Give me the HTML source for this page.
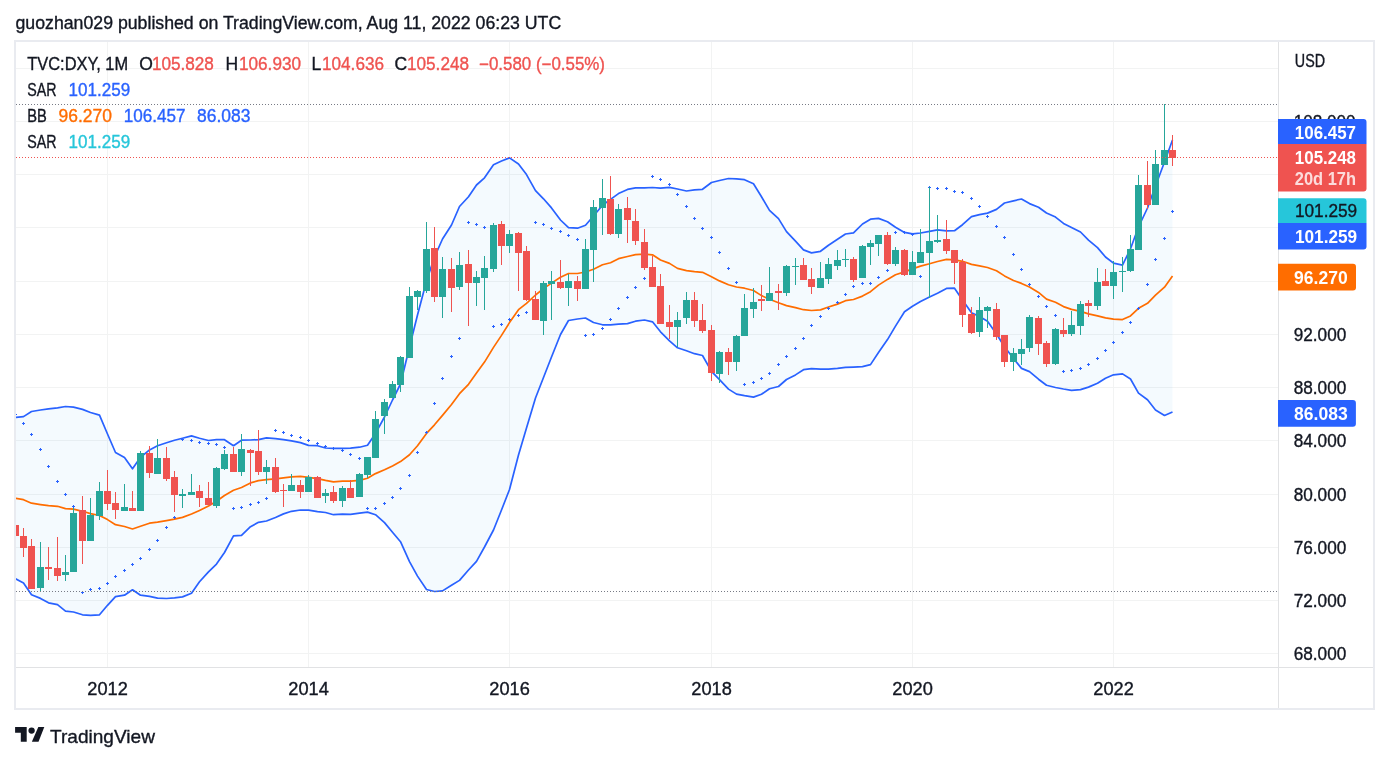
<!DOCTYPE html><html><head><meta charset="utf-8"><style>html,body{margin:0;padding:0;background:#fff;width:1389px;height:762px;overflow:hidden}svg{display:block;will-change:transform}text{font-family:"Liberation Sans", sans-serif}</style></head><body>
<svg width="1389" height="762" viewBox="0 0 1389 762">
<rect width="1389" height="762" fill="#fff"/>
<text x="15.5" y="28.8" font-size="17.5" fill="#131722" stroke="#131722" stroke-width="0.35" textLength="545.7" lengthAdjust="spacingAndGlyphs">guozhan029 published on TradingView.com, Aug 11, 2022 06:23 UTC</text>
<defs><clipPath id="pane"><rect x="16" y="42" width="1262" height="625"/></clipPath></defs>
<g clip-path="url(#pane)">
<rect x="16" y="653" width="1262" height="1" fill="#f2f3f3"/>
<rect x="16" y="600" width="1262" height="1" fill="#f2f3f3"/>
<rect x="16" y="547" width="1262" height="1" fill="#f2f3f3"/>
<rect x="16" y="494" width="1262" height="1" fill="#f2f3f3"/>
<rect x="16" y="440" width="1262" height="1" fill="#f2f3f3"/>
<rect x="16" y="387" width="1262" height="1" fill="#f2f3f3"/>
<rect x="16" y="334" width="1262" height="1" fill="#f2f3f3"/>
<rect x="16" y="281" width="1262" height="1" fill="#f2f3f3"/>
<rect x="16" y="227" width="1262" height="1" fill="#f2f3f3"/>
<rect x="16" y="174" width="1262" height="1" fill="#f2f3f3"/>
<rect x="16" y="121" width="1262" height="1" fill="#f2f3f3"/>
<rect x="16" y="68" width="1262" height="1" fill="#f2f3f3"/>
<rect x="107" y="42" width="1" height="625" fill="#f2f3f3"/>
<rect x="308" y="42" width="1" height="625" fill="#f2f3f3"/>
<rect x="509" y="42" width="1" height="625" fill="#f2f3f3"/>
<rect x="711" y="42" width="1" height="625" fill="#f2f3f3"/>
<rect x="912" y="42" width="1" height="625" fill="#f2f3f3"/>
<rect x="1113" y="42" width="1" height="625" fill="#f2f3f3"/>
<polygon points="6.5,418.5 15.5,417.4 23.5,416.6 31.5,411.5 40.5,410.0 48.5,408.8 57.5,407.8 65.5,406.5 73.5,407.2 82.5,409.4 90.5,412.5 99.5,415.1 107.5,434.0 115.5,452.5 124.5,457.6 132.5,468.8 140.5,457.3 149.5,449.9 157.5,445.8 166.5,442.7 174.5,440.2 182.5,438.2 191.5,435.9 199.5,438.2 208.5,440.5 216.5,439.7 224.5,439.7 233.5,445.7 241.5,440.2 250.5,440.0 258.5,439.6 266.5,437.9 275.5,438.6 283.5,439.7 291.5,440.9 300.5,442.6 308.5,445.4 317.5,445.7 325.5,448.0 333.5,448.4 342.5,448.4 350.5,448.1 359.5,447.2 367.5,445.2 375.5,433.4 384.5,417.0 392.5,400.0 400.5,384.0 409.5,347.0 417.5,315.0 426.5,281.0 434.5,257.0 442.5,239.0 451.5,225.0 459.5,206.5 468.5,196.7 476.5,185.0 484.5,177.8 493.5,164.7 501.5,161.0 509.5,157.9 518.5,164.0 526.5,174.6 535.5,190.6 543.5,198.8 551.5,207.9 560.5,220.0 568.5,227.6 577.5,228.2 585.5,225.3 593.5,216.0 602.5,205.3 610.5,199.4 618.5,193.6 627.5,189.4 635.5,187.9 644.5,187.9 652.5,187.5 660.5,188.2 669.5,187.3 677.5,189.0 686.5,191.0 694.5,189.8 702.5,189.3 711.5,182.5 719.5,180.5 728.5,178.5 736.5,178.8 744.5,179.7 753.5,183.8 761.5,196.8 769.5,210.4 778.5,218.6 786.5,231.6 795.5,241.1 803.5,249.9 811.5,252.9 820.5,251.3 828.5,245.2 837.5,239.3 845.5,234.0 853.5,232.8 862.5,224.0 870.5,219.2 878.5,218.4 887.5,221.7 895.5,227.2 904.5,232.4 912.5,233.9 920.5,233.0 929.5,231.3 937.5,229.9 946.5,230.9 954.5,230.7 962.5,224.7 971.5,216.6 979.5,214.6 987.5,213.1 996.5,209.4 1004.5,203.0 1013.5,200.8 1021.5,199.0 1029.5,203.6 1038.5,207.3 1046.5,213.0 1055.5,217.1 1063.5,223.4 1071.5,227.4 1080.5,232.0 1088.5,240.1 1097.5,247.6 1105.5,257.0 1113.5,263.2 1122.5,265.1 1130.5,248.8 1138.5,227.0 1147.5,208.0 1155.5,186.0 1164.5,162.0 1172.5,140.0 1172.5,412.0 1164.5,415.5 1155.5,410.0 1147.5,399.7 1138.5,393.1 1130.5,379.0 1122.5,373.9 1113.5,374.8 1105.5,378.2 1097.5,383.3 1088.5,387.1 1080.5,389.6 1071.5,390.3 1063.5,389.0 1055.5,387.5 1046.5,385.2 1038.5,379.2 1029.5,371.6 1021.5,368.4 1013.5,358.5 1004.5,346.8 996.5,334.0 987.5,321.3 979.5,316.5 971.5,312.8 962.5,300.0 954.5,288.2 946.5,288.4 937.5,293.3 929.5,297.0 920.5,301.5 912.5,306.2 904.5,311.7 895.5,326.1 887.5,339.6 878.5,352.5 870.5,364.6 862.5,366.6 853.5,367.1 845.5,367.4 837.5,368.4 828.5,369.2 820.5,369.2 811.5,368.6 803.5,369.7 795.5,374.9 786.5,379.5 778.5,386.5 769.5,388.8 761.5,394.3 753.5,397.1 744.5,395.7 736.5,394.1 728.5,389.1 719.5,379.7 711.5,371.4 702.5,355.5 694.5,353.7 686.5,350.7 677.5,347.8 669.5,340.9 660.5,331.8 652.5,321.8 644.5,320.0 635.5,321.2 627.5,323.6 618.5,324.2 610.5,324.8 602.5,324.8 593.5,322.5 585.5,318.0 577.5,319.0 568.5,320.5 560.5,334.5 551.5,357.0 543.5,377.5 535.5,398.0 526.5,428.0 518.5,455.0 509.5,489.5 501.5,510.0 493.5,530.0 484.5,547.0 476.5,561.3 468.5,570.0 459.5,580.4 451.5,585.3 442.5,590.9 434.5,591.5 426.5,589.5 417.5,576.1 409.5,561.7 400.5,541.7 392.5,532.2 384.5,522.6 375.5,514.7 367.5,512.1 359.5,513.1 350.5,514.4 342.5,514.2 333.5,514.7 325.5,512.5 317.5,511.7 308.5,510.2 300.5,510.0 291.5,511.3 283.5,513.9 275.5,517.5 266.5,521.0 258.5,522.3 250.5,526.7 241.5,535.4 233.5,535.8 224.5,552.5 216.5,564.1 208.5,571.9 199.5,581.8 191.5,593.2 182.5,596.9 174.5,597.9 166.5,598.5 157.5,598.2 149.5,596.3 140.5,595.2 132.5,589.8 124.5,595.2 115.5,596.7 107.5,605.3 99.5,614.8 90.5,615.3 82.5,614.8 73.5,612.0 65.5,611.1 57.5,604.7 48.5,602.8 40.5,598.4 31.5,594.7 23.5,582.9 15.5,578.8 6.5,574.0" fill="rgba(33,150,243,0.05)"/>
<polyline points="6.5,497.0 15.5,498.2 23.5,499.7 31.5,503.2 40.5,504.6 48.5,505.7 57.5,506.3 65.5,508.6 73.5,509.2 82.5,511.3 90.5,513.6 99.5,515.5 107.5,519.6 115.5,524.7 124.5,526.5 132.5,529.0 140.5,526.2 149.5,523.2 157.5,522.1 166.5,520.6 174.5,519.1 182.5,517.4 191.5,514.0 199.5,510.5 208.5,505.9 216.5,501.3 224.5,495.5 233.5,490.3 241.5,487.5 250.5,482.9 258.5,480.6 266.5,479.7 275.5,478.8 283.5,477.9 291.5,476.9 300.5,476.3 308.5,477.4 317.5,478.6 325.5,480.4 333.5,481.8 342.5,481.1 350.5,481.1 359.5,480.4 367.5,478.2 375.5,473.6 384.5,469.8 392.5,465.9 400.5,461.6 409.5,454.8 417.5,445.7 426.5,433.4 434.5,424.8 442.5,415.4 451.5,404.5 459.5,393.7 468.5,384.3 476.5,373.1 484.5,362.1 493.5,347.4 501.5,335.4 509.5,322.6 518.5,309.7 526.5,303.3 535.5,295.0 543.5,288.6 551.5,283.1 560.5,277.2 568.5,273.5 577.5,273.5 585.5,272.0 593.5,269.3 602.5,264.7 610.5,262.7 618.5,258.7 627.5,256.5 635.5,254.6 644.5,254.2 652.5,254.8 660.5,260.0 669.5,263.4 677.5,268.4 686.5,270.6 694.5,271.7 702.5,272.3 711.5,276.7 719.5,280.9 728.5,284.7 736.5,287.0 744.5,288.2 753.5,290.5 761.5,295.6 769.5,299.3 778.5,302.8 786.5,305.6 795.5,307.6 803.5,309.7 811.5,310.5 820.5,309.9 828.5,307.0 837.5,304.1 845.5,300.7 853.5,299.5 862.5,296.1 870.5,291.7 878.5,285.1 887.5,279.4 895.5,274.8 904.5,271.9 912.5,268.9 920.5,266.1 929.5,263.8 937.5,261.5 946.5,259.4 954.5,259.8 962.5,261.3 971.5,264.4 979.5,265.9 987.5,267.5 996.5,270.7 1004.5,275.9 1013.5,280.5 1021.5,283.4 1029.5,287.1 1038.5,292.4 1046.5,299.1 1055.5,302.3 1063.5,306.6 1071.5,309.4 1080.5,311.4 1088.5,313.9 1097.5,315.9 1105.5,317.9 1113.5,319.1 1122.5,319.6 1130.5,315.9 1138.5,308.3 1147.5,303.3 1155.5,295.2 1164.5,287.2 1172.5,276.1" fill="none" stroke="#ff6d00" stroke-width="1.7" stroke-linejoin="round"/>
<polyline points="6.5,418.5 15.5,417.4 23.5,416.6 31.5,411.5 40.5,410.0 48.5,408.8 57.5,407.8 65.5,406.5 73.5,407.2 82.5,409.4 90.5,412.5 99.5,415.1 107.5,434.0 115.5,452.5 124.5,457.6 132.5,468.8 140.5,457.3 149.5,449.9 157.5,445.8 166.5,442.7 174.5,440.2 182.5,438.2 191.5,435.9 199.5,438.2 208.5,440.5 216.5,439.7 224.5,439.7 233.5,445.7 241.5,440.2 250.5,440.0 258.5,439.6 266.5,437.9 275.5,438.6 283.5,439.7 291.5,440.9 300.5,442.6 308.5,445.4 317.5,445.7 325.5,448.0 333.5,448.4 342.5,448.4 350.5,448.1 359.5,447.2 367.5,445.2 375.5,433.4 384.5,417.0 392.5,400.0 400.5,384.0 409.5,347.0 417.5,315.0 426.5,281.0 434.5,257.0 442.5,239.0 451.5,225.0 459.5,206.5 468.5,196.7 476.5,185.0 484.5,177.8 493.5,164.7 501.5,161.0 509.5,157.9 518.5,164.0 526.5,174.6 535.5,190.6 543.5,198.8 551.5,207.9 560.5,220.0 568.5,227.6 577.5,228.2 585.5,225.3 593.5,216.0 602.5,205.3 610.5,199.4 618.5,193.6 627.5,189.4 635.5,187.9 644.5,187.9 652.5,187.5 660.5,188.2 669.5,187.3 677.5,189.0 686.5,191.0 694.5,189.8 702.5,189.3 711.5,182.5 719.5,180.5 728.5,178.5 736.5,178.8 744.5,179.7 753.5,183.8 761.5,196.8 769.5,210.4 778.5,218.6 786.5,231.6 795.5,241.1 803.5,249.9 811.5,252.9 820.5,251.3 828.5,245.2 837.5,239.3 845.5,234.0 853.5,232.8 862.5,224.0 870.5,219.2 878.5,218.4 887.5,221.7 895.5,227.2 904.5,232.4 912.5,233.9 920.5,233.0 929.5,231.3 937.5,229.9 946.5,230.9 954.5,230.7 962.5,224.7 971.5,216.6 979.5,214.6 987.5,213.1 996.5,209.4 1004.5,203.0 1013.5,200.8 1021.5,199.0 1029.5,203.6 1038.5,207.3 1046.5,213.0 1055.5,217.1 1063.5,223.4 1071.5,227.4 1080.5,232.0 1088.5,240.1 1097.5,247.6 1105.5,257.0 1113.5,263.2 1122.5,265.1 1130.5,248.8 1138.5,227.0 1147.5,208.0 1155.5,186.0 1164.5,162.0 1172.5,140.0" fill="none" stroke="#2962ff" stroke-width="1.7" stroke-linejoin="round"/>
<polyline points="6.5,574.0 15.5,578.8 23.5,582.9 31.5,594.7 40.5,598.4 48.5,602.8 57.5,604.7 65.5,611.1 73.5,612.0 82.5,614.8 90.5,615.3 99.5,614.8 107.5,605.3 115.5,596.7 124.5,595.2 132.5,589.8 140.5,595.2 149.5,596.3 157.5,598.2 166.5,598.5 174.5,597.9 182.5,596.9 191.5,593.2 199.5,581.8 208.5,571.9 216.5,564.1 224.5,552.5 233.5,535.8 241.5,535.4 250.5,526.7 258.5,522.3 266.5,521.0 275.5,517.5 283.5,513.9 291.5,511.3 300.5,510.0 308.5,510.2 317.5,511.7 325.5,512.5 333.5,514.7 342.5,514.2 350.5,514.4 359.5,513.1 367.5,512.1 375.5,514.7 384.5,522.6 392.5,532.2 400.5,541.7 409.5,561.7 417.5,576.1 426.5,589.5 434.5,591.5 442.5,590.9 451.5,585.3 459.5,580.4 468.5,570.0 476.5,561.3 484.5,547.0 493.5,530.0 501.5,510.0 509.5,489.5 518.5,455.0 526.5,428.0 535.5,398.0 543.5,377.5 551.5,357.0 560.5,334.5 568.5,320.5 577.5,319.0 585.5,318.0 593.5,322.5 602.5,324.8 610.5,324.8 618.5,324.2 627.5,323.6 635.5,321.2 644.5,320.0 652.5,321.8 660.5,331.8 669.5,340.9 677.5,347.8 686.5,350.7 694.5,353.7 702.5,355.5 711.5,371.4 719.5,379.7 728.5,389.1 736.5,394.1 744.5,395.7 753.5,397.1 761.5,394.3 769.5,388.8 778.5,386.5 786.5,379.5 795.5,374.9 803.5,369.7 811.5,368.6 820.5,369.2 828.5,369.2 837.5,368.4 845.5,367.4 853.5,367.1 862.5,366.6 870.5,364.6 878.5,352.5 887.5,339.6 895.5,326.1 904.5,311.7 912.5,306.2 920.5,301.5 929.5,297.0 937.5,293.3 946.5,288.4 954.5,288.2 962.5,300.0 971.5,312.8 979.5,316.5 987.5,321.3 996.5,334.0 1004.5,346.8 1013.5,358.5 1021.5,368.4 1029.5,371.6 1038.5,379.2 1046.5,385.2 1055.5,387.5 1063.5,389.0 1071.5,390.3 1080.5,389.6 1088.5,387.1 1097.5,383.3 1105.5,378.2 1113.5,374.8 1122.5,373.9 1130.5,379.0 1138.5,393.1 1147.5,399.7 1155.5,410.0 1164.5,415.5 1172.5,412.0" fill="none" stroke="#2962ff" stroke-width="1.7" stroke-linejoin="round"/>
<path d="M14 414h3v1h-3zM15 413h1v3h-1zM22 423h3v1h-3zM23 422h1v3h-1zM30 434h3v1h-3zM31 433h1v3h-1zM39 449h3v1h-3zM40 448h1v3h-1zM47 466h3v1h-3zM48 465h1v3h-1zM56 481h3v1h-3zM57 480h1v3h-1zM64 494h3v1h-3zM65 493h1v3h-1zM72 506h3v1h-3zM73 505h1v3h-1zM81 592h3v1h-3zM82 591h1v3h-1zM89 589h3v1h-3zM90 588h1v3h-1zM98 588h3v1h-3zM99 587h1v3h-1zM106 583h3v1h-3zM107 582h1v3h-1zM114 576h3v1h-3zM115 575h1v3h-1zM123 570h3v1h-3zM124 569h1v3h-1zM131 564h3v1h-3zM132 563h1v3h-1zM139 558h3v1h-3zM140 557h1v3h-1zM148 549h3v1h-3zM149 548h1v3h-1zM156 540h3v1h-3zM157 539h1v3h-1zM165 527h3v1h-3zM166 526h1v3h-1zM173 517h3v1h-3zM174 516h1v3h-1zM181 439h3v1h-3zM182 438h1v3h-1zM190 440h3v1h-3zM191 439h1v3h-1zM198 442h3v1h-3zM199 441h1v3h-1zM207 443h3v1h-3zM208 442h1v3h-1zM215 444h3v1h-3zM216 443h1v3h-1zM223 447h3v1h-3zM224 446h1v3h-1zM232 508h3v1h-3zM233 507h1v3h-1zM240 507h3v1h-3zM241 506h1v3h-1zM249 504h3v1h-3zM250 503h1v3h-1zM257 502h3v1h-3zM258 501h1v3h-1zM265 498h3v1h-3zM266 497h1v3h-1zM274 430h3v1h-3zM275 429h1v3h-1zM282 432h3v1h-3zM283 431h1v3h-1zM290 435h3v1h-3zM291 434h1v3h-1zM299 437h3v1h-3zM300 436h1v3h-1zM307 440h3v1h-3zM308 439h1v3h-1zM316 443h3v1h-3zM317 442h1v3h-1zM324 446h3v1h-3zM325 445h1v3h-1zM332 448h3v1h-3zM333 447h1v3h-1zM341 450h3v1h-3zM342 449h1v3h-1zM349 454h3v1h-3zM350 453h1v3h-1zM358 458h3v1h-3zM359 457h1v3h-1zM366 508h3v1h-3zM367 507h1v3h-1zM374 508h3v1h-3zM375 507h1v3h-1zM383 503h3v1h-3zM384 502h1v3h-1zM391 497h3v1h-3zM392 496h1v3h-1zM399 488h3v1h-3zM400 487h1v3h-1zM408 475h3v1h-3zM409 474h1v3h-1zM416 452h3v1h-3zM417 451h1v3h-1zM425 432h3v1h-3zM426 431h1v3h-1zM433 403h3v1h-3zM434 402h1v3h-1zM441 378h3v1h-3zM442 377h1v3h-1zM450 356h3v1h-3zM451 355h1v3h-1zM458 338h3v1h-3zM459 337h1v3h-1zM467 222h3v1h-3zM468 221h1v3h-1zM475 224h3v1h-3zM476 223h1v3h-1zM483 227h3v1h-3zM484 226h1v3h-1zM492 326h3v1h-3zM493 325h1v3h-1zM500 324h3v1h-3zM501 323h1v3h-1zM508 319h3v1h-3zM509 318h1v3h-1zM517 315h3v1h-3zM518 314h1v3h-1zM525 312h3v1h-3zM526 311h1v3h-1zM534 222h3v1h-3zM535 221h1v3h-1zM542 224h3v1h-3zM543 223h1v3h-1zM550 228h3v1h-3zM551 227h1v3h-1zM559 231h3v1h-3zM560 230h1v3h-1zM567 235h3v1h-3zM568 234h1v3h-1zM576 239h3v1h-3zM577 238h1v3h-1zM584 335h3v1h-3zM585 334h1v3h-1zM592 334h3v1h-3zM593 333h1v3h-1zM601 328h3v1h-3zM602 327h1v3h-1zM609 319h3v1h-3zM610 318h1v3h-1zM617 308h3v1h-3zM618 307h1v3h-1zM626 297h3v1h-3zM627 296h1v3h-1zM634 287h3v1h-3zM635 286h1v3h-1zM643 278h3v1h-3zM644 277h1v3h-1zM651 176h3v1h-3zM652 175h1v3h-1zM659 179h3v1h-3zM660 178h1v3h-1zM668 184h3v1h-3zM669 183h1v3h-1zM676 194h3v1h-3zM677 193h1v3h-1zM685 206h3v1h-3zM686 205h1v3h-1zM693 218h3v1h-3zM694 217h1v3h-1zM701 228h3v1h-3zM702 227h1v3h-1zM710 237h3v1h-3zM711 236h1v3h-1zM718 252h3v1h-3zM719 251h1v3h-1zM727 268h3v1h-3zM728 267h1v3h-1zM735 282h3v1h-3zM736 281h1v3h-1zM743 384h3v1h-3zM744 383h1v3h-1zM752 382h3v1h-3zM753 381h1v3h-1zM760 378h3v1h-3zM761 377h1v3h-1zM768 373h3v1h-3zM769 372h1v3h-1zM777 364h3v1h-3zM778 363h1v3h-1zM785 356h3v1h-3zM786 355h1v3h-1zM794 348h3v1h-3zM795 347h1v3h-1zM802 338h3v1h-3zM803 337h1v3h-1zM810 325h3v1h-3zM811 324h1v3h-1zM819 316h3v1h-3zM820 315h1v3h-1zM827 308h3v1h-3zM828 307h1v3h-1zM836 302h3v1h-3zM837 301h1v3h-1zM844 294h3v1h-3zM845 293h1v3h-1zM852 286h3v1h-3zM853 285h1v3h-1zM861 283h3v1h-3zM862 282h1v3h-1zM869 283h3v1h-3zM870 282h1v3h-1zM877 277h3v1h-3zM878 276h1v3h-1zM886 270h3v1h-3zM887 269h1v3h-1zM894 232h3v1h-3zM895 231h1v3h-1zM903 232h3v1h-3zM904 231h1v3h-1zM911 234h3v1h-3zM912 233h1v3h-1zM919 276h3v1h-3zM920 275h1v3h-1zM928 187h3v1h-3zM929 186h1v3h-1zM936 188h3v1h-3zM937 187h1v3h-1zM945 188h3v1h-3zM946 187h1v3h-1zM953 191h3v1h-3zM954 190h1v3h-1zM961 192h3v1h-3zM962 191h1v3h-1zM970 198h3v1h-3zM971 197h1v3h-1zM978 206h3v1h-3zM979 205h1v3h-1zM986 216h3v1h-3zM987 215h1v3h-1zM995 226h3v1h-3zM996 225h1v3h-1zM1003 237h3v1h-3zM1004 236h1v3h-1zM1012 254h3v1h-3zM1013 253h1v3h-1zM1020 269h3v1h-3zM1021 268h1v3h-1zM1028 284h3v1h-3zM1029 283h1v3h-1zM1037 296h3v1h-3zM1038 295h1v3h-1zM1045 306h3v1h-3zM1046 305h1v3h-1zM1054 315h3v1h-3zM1055 314h1v3h-1zM1062 371h3v1h-3zM1063 370h1v3h-1zM1070 370h3v1h-3zM1071 369h1v3h-1zM1079 368h3v1h-3zM1080 367h1v3h-1zM1087 364h3v1h-3zM1088 363h1v3h-1zM1096 358h3v1h-3zM1097 357h1v3h-1zM1104 350h3v1h-3zM1105 349h1v3h-1zM1112 342h3v1h-3zM1113 341h1v3h-1zM1121 332h3v1h-3zM1122 331h1v3h-1zM1129 322h3v1h-3zM1130 321h1v3h-1zM1137 308h3v1h-3zM1138 307h1v3h-1zM1146 284h3v1h-3zM1147 283h1v3h-1zM1154 259h3v1h-3zM1155 258h1v3h-1zM1163 238h3v1h-3zM1164 237h1v3h-1zM1171 211h3v1h-3zM1172 210h1v3h-1z" fill="#2962ff"/>
<rect x="15" y="508" width="1" height="30" fill="#ef5350"/>
<rect x="12" y="525" width="7" height="11" fill="#ef5350"/>
<rect x="23" y="528" width="1" height="29" fill="#ef5350"/>
<rect x="20" y="536" width="7" height="12" fill="#ef5350"/>
<rect x="31" y="539" width="1" height="50" fill="#ef5350"/>
<rect x="28" y="546" width="7" height="43" fill="#ef5350"/>
<rect x="40" y="542" width="1" height="49" fill="#26a69a"/>
<rect x="37" y="567" width="7" height="21" fill="#26a69a"/>
<rect x="48" y="547" width="1" height="33" fill="#ef5350"/>
<rect x="45" y="567" width="7" height="2" fill="#ef5350"/>
<rect x="57" y="537" width="1" height="44" fill="#ef5350"/>
<rect x="54" y="568" width="7" height="8" fill="#ef5350"/>
<rect x="65" y="555" width="1" height="26" fill="#26a69a"/>
<rect x="62" y="572" width="7" height="3" fill="#26a69a"/>
<rect x="73" y="508" width="1" height="64" fill="#26a69a"/>
<rect x="70" y="513" width="7" height="59" fill="#26a69a"/>
<rect x="82" y="496" width="1" height="68" fill="#ef5350"/>
<rect x="79" y="510" width="7" height="31" fill="#ef5350"/>
<rect x="90" y="498" width="1" height="43" fill="#26a69a"/>
<rect x="87" y="515" width="7" height="26" fill="#26a69a"/>
<rect x="99" y="482" width="1" height="38" fill="#26a69a"/>
<rect x="96" y="491" width="7" height="25" fill="#26a69a"/>
<rect x="107" y="470" width="1" height="40" fill="#ef5350"/>
<rect x="104" y="491" width="7" height="13" fill="#ef5350"/>
<rect x="115" y="492" width="1" height="27" fill="#ef5350"/>
<rect x="112" y="503" width="7" height="7" fill="#ef5350"/>
<rect x="124" y="484" width="1" height="27" fill="#26a69a"/>
<rect x="121" y="507" width="7" height="4" fill="#26a69a"/>
<rect x="132" y="491" width="1" height="20" fill="#ef5350"/>
<rect x="129" y="508" width="7" height="3" fill="#ef5350"/>
<rect x="140" y="451" width="1" height="60" fill="#26a69a"/>
<rect x="137" y="453" width="7" height="58" fill="#26a69a"/>
<rect x="149" y="446" width="1" height="32" fill="#ef5350"/>
<rect x="146" y="453" width="7" height="20" fill="#ef5350"/>
<rect x="157" y="439" width="1" height="35" fill="#26a69a"/>
<rect x="154" y="458" width="7" height="16" fill="#26a69a"/>
<rect x="166" y="447" width="1" height="34" fill="#ef5350"/>
<rect x="163" y="458" width="7" height="21" fill="#ef5350"/>
<rect x="174" y="471" width="1" height="41" fill="#ef5350"/>
<rect x="171" y="477" width="7" height="18" fill="#ef5350"/>
<rect x="182" y="489" width="1" height="19" fill="#26a69a"/>
<rect x="179" y="494" width="7" height="2" fill="#26a69a"/>
<rect x="191" y="474" width="1" height="21" fill="#26a69a"/>
<rect x="188" y="492" width="7" height="3" fill="#26a69a"/>
<rect x="199" y="485" width="1" height="22" fill="#ef5350"/>
<rect x="196" y="491" width="7" height="7" fill="#ef5350"/>
<rect x="208" y="482" width="1" height="23" fill="#ef5350"/>
<rect x="205" y="498" width="7" height="7" fill="#ef5350"/>
<rect x="216" y="467" width="1" height="41" fill="#26a69a"/>
<rect x="213" y="468" width="7" height="38" fill="#26a69a"/>
<rect x="224" y="450" width="1" height="20" fill="#26a69a"/>
<rect x="221" y="454" width="7" height="15" fill="#26a69a"/>
<rect x="233" y="447" width="1" height="25" fill="#ef5350"/>
<rect x="230" y="454" width="7" height="18" fill="#ef5350"/>
<rect x="241" y="434" width="1" height="42" fill="#26a69a"/>
<rect x="238" y="449" width="7" height="23" fill="#26a69a"/>
<rect x="250" y="449" width="1" height="37" fill="#ef5350"/>
<rect x="247" y="450" width="7" height="3" fill="#ef5350"/>
<rect x="258" y="430" width="1" height="45" fill="#ef5350"/>
<rect x="255" y="451" width="7" height="21" fill="#ef5350"/>
<rect x="266" y="460" width="1" height="24" fill="#26a69a"/>
<rect x="263" y="467" width="7" height="5" fill="#26a69a"/>
<rect x="275" y="458" width="1" height="35" fill="#ef5350"/>
<rect x="272" y="467" width="7" height="25" fill="#ef5350"/>
<rect x="283" y="484" width="1" height="23" fill="#ef5350"/>
<rect x="280" y="490" width="7" height="1" fill="#ef5350"/>
<rect x="291" y="474" width="1" height="17" fill="#26a69a"/>
<rect x="288" y="485" width="7" height="6" fill="#26a69a"/>
<rect x="300" y="480" width="1" height="18" fill="#ef5350"/>
<rect x="297" y="485" width="7" height="7" fill="#ef5350"/>
<rect x="308" y="475" width="1" height="17" fill="#26a69a"/>
<rect x="305" y="477" width="7" height="15" fill="#26a69a"/>
<rect x="317" y="476" width="1" height="22" fill="#ef5350"/>
<rect x="314" y="477" width="7" height="21" fill="#ef5350"/>
<rect x="325" y="489" width="1" height="14" fill="#26a69a"/>
<rect x="322" y="493" width="7" height="3" fill="#26a69a"/>
<rect x="333" y="486" width="1" height="17" fill="#ef5350"/>
<rect x="330" y="492" width="7" height="9" fill="#ef5350"/>
<rect x="342" y="486" width="1" height="21" fill="#26a69a"/>
<rect x="339" y="488" width="7" height="13" fill="#26a69a"/>
<rect x="350" y="480" width="1" height="18" fill="#ef5350"/>
<rect x="347" y="488" width="7" height="10" fill="#ef5350"/>
<rect x="359" y="473" width="1" height="24" fill="#26a69a"/>
<rect x="356" y="474" width="7" height="23" fill="#26a69a"/>
<rect x="367" y="457" width="1" height="21" fill="#26a69a"/>
<rect x="364" y="457" width="7" height="18" fill="#26a69a"/>
<rect x="375" y="411" width="1" height="47" fill="#26a69a"/>
<rect x="372" y="419" width="7" height="39" fill="#26a69a"/>
<rect x="384" y="399" width="1" height="35" fill="#26a69a"/>
<rect x="381" y="402" width="7" height="14" fill="#26a69a"/>
<rect x="392" y="381" width="1" height="17" fill="#26a69a"/>
<rect x="389" y="384" width="7" height="14" fill="#26a69a"/>
<rect x="400" y="356" width="1" height="36" fill="#26a69a"/>
<rect x="397" y="357" width="7" height="28" fill="#26a69a"/>
<rect x="409" y="287" width="1" height="71" fill="#26a69a"/>
<rect x="406" y="296" width="7" height="62" fill="#26a69a"/>
<rect x="417" y="290" width="1" height="20" fill="#26a69a"/>
<rect x="414" y="291" width="7" height="6" fill="#26a69a"/>
<rect x="426" y="222" width="1" height="71" fill="#26a69a"/>
<rect x="423" y="249" width="7" height="42" fill="#26a69a"/>
<rect x="434" y="227" width="1" height="75" fill="#ef5350"/>
<rect x="431" y="248" width="7" height="49" fill="#ef5350"/>
<rect x="442" y="257" width="1" height="61" fill="#26a69a"/>
<rect x="439" y="269" width="7" height="28" fill="#26a69a"/>
<rect x="451" y="258" width="1" height="54" fill="#ef5350"/>
<rect x="448" y="269" width="7" height="19" fill="#ef5350"/>
<rect x="459" y="252" width="1" height="38" fill="#26a69a"/>
<rect x="456" y="265" width="7" height="22" fill="#26a69a"/>
<rect x="468" y="250" width="1" height="76" fill="#ef5350"/>
<rect x="465" y="264" width="7" height="19" fill="#ef5350"/>
<rect x="476" y="271" width="1" height="35" fill="#26a69a"/>
<rect x="473" y="277" width="7" height="6" fill="#26a69a"/>
<rect x="484" y="256" width="1" height="54" fill="#26a69a"/>
<rect x="481" y="268" width="7" height="10" fill="#26a69a"/>
<rect x="493" y="223" width="1" height="49" fill="#26a69a"/>
<rect x="490" y="225" width="7" height="44" fill="#26a69a"/>
<rect x="501" y="221" width="1" height="44" fill="#ef5350"/>
<rect x="498" y="224" width="7" height="22" fill="#ef5350"/>
<rect x="509" y="230" width="1" height="23" fill="#26a69a"/>
<rect x="506" y="234" width="7" height="12" fill="#26a69a"/>
<rect x="518" y="232" width="1" height="59" fill="#ef5350"/>
<rect x="515" y="233" width="7" height="20" fill="#ef5350"/>
<rect x="526" y="246" width="1" height="55" fill="#ef5350"/>
<rect x="523" y="251" width="7" height="49" fill="#ef5350"/>
<rect x="535" y="291" width="1" height="29" fill="#ef5350"/>
<rect x="532" y="299" width="7" height="21" fill="#ef5350"/>
<rect x="543" y="281" width="1" height="54" fill="#26a69a"/>
<rect x="540" y="283" width="7" height="38" fill="#26a69a"/>
<rect x="551" y="271" width="1" height="49" fill="#26a69a"/>
<rect x="548" y="281" width="7" height="3" fill="#26a69a"/>
<rect x="560" y="260" width="1" height="29" fill="#ef5350"/>
<rect x="557" y="282" width="7" height="6" fill="#ef5350"/>
<rect x="568" y="274" width="1" height="32" fill="#26a69a"/>
<rect x="565" y="281" width="7" height="7" fill="#26a69a"/>
<rect x="577" y="276" width="1" height="25" fill="#ef5350"/>
<rect x="574" y="281" width="7" height="8" fill="#ef5350"/>
<rect x="585" y="239" width="1" height="50" fill="#26a69a"/>
<rect x="582" y="249" width="7" height="40" fill="#26a69a"/>
<rect x="593" y="200" width="1" height="82" fill="#26a69a"/>
<rect x="590" y="207" width="7" height="43" fill="#26a69a"/>
<rect x="602" y="179" width="1" height="56" fill="#26a69a"/>
<rect x="599" y="198" width="7" height="10" fill="#26a69a"/>
<rect x="610" y="176" width="1" height="59" fill="#ef5350"/>
<rect x="607" y="199" width="7" height="35" fill="#ef5350"/>
<rect x="618" y="204" width="1" height="34" fill="#26a69a"/>
<rect x="615" y="209" width="7" height="25" fill="#26a69a"/>
<rect x="627" y="197" width="1" height="46" fill="#ef5350"/>
<rect x="624" y="208" width="7" height="12" fill="#ef5350"/>
<rect x="635" y="209" width="1" height="36" fill="#ef5350"/>
<rect x="632" y="221" width="7" height="20" fill="#ef5350"/>
<rect x="644" y="229" width="1" height="41" fill="#ef5350"/>
<rect x="641" y="242" width="7" height="26" fill="#ef5350"/>
<rect x="652" y="256" width="1" height="31" fill="#ef5350"/>
<rect x="649" y="267" width="7" height="20" fill="#ef5350"/>
<rect x="660" y="274" width="1" height="50" fill="#ef5350"/>
<rect x="657" y="286" width="7" height="38" fill="#ef5350"/>
<rect x="669" y="305" width="1" height="34" fill="#ef5350"/>
<rect x="666" y="322" width="7" height="5" fill="#ef5350"/>
<rect x="677" y="312" width="1" height="35" fill="#26a69a"/>
<rect x="674" y="320" width="7" height="7" fill="#26a69a"/>
<rect x="686" y="292" width="1" height="32" fill="#26a69a"/>
<rect x="683" y="300" width="7" height="18" fill="#26a69a"/>
<rect x="694" y="292" width="1" height="35" fill="#ef5350"/>
<rect x="691" y="300" width="7" height="21" fill="#ef5350"/>
<rect x="702" y="304" width="1" height="29" fill="#ef5350"/>
<rect x="699" y="320" width="7" height="11" fill="#ef5350"/>
<rect x="711" y="325" width="1" height="56" fill="#ef5350"/>
<rect x="708" y="330" width="7" height="43" fill="#ef5350"/>
<rect x="719" y="351" width="1" height="32" fill="#26a69a"/>
<rect x="716" y="352" width="7" height="22" fill="#26a69a"/>
<rect x="728" y="348" width="1" height="27" fill="#ef5350"/>
<rect x="725" y="352" width="7" height="10" fill="#ef5350"/>
<rect x="736" y="335" width="1" height="36" fill="#26a69a"/>
<rect x="733" y="336" width="7" height="26" fill="#26a69a"/>
<rect x="744" y="294" width="1" height="42" fill="#26a69a"/>
<rect x="741" y="308" width="7" height="28" fill="#26a69a"/>
<rect x="753" y="288" width="1" height="30" fill="#26a69a"/>
<rect x="750" y="302" width="7" height="7" fill="#26a69a"/>
<rect x="761" y="285" width="1" height="26" fill="#ef5350"/>
<rect x="758" y="299" width="7" height="2" fill="#ef5350"/>
<rect x="769" y="267" width="1" height="34" fill="#26a69a"/>
<rect x="766" y="293" width="7" height="8" fill="#26a69a"/>
<rect x="778" y="284" width="1" height="26" fill="#ef5350"/>
<rect x="775" y="291" width="7" height="2" fill="#ef5350"/>
<rect x="786" y="265" width="1" height="31" fill="#26a69a"/>
<rect x="783" y="266" width="7" height="27" fill="#26a69a"/>
<rect x="795" y="258" width="1" height="27" fill="#26a69a"/>
<rect x="792" y="266" width="7" height="1" fill="#26a69a"/>
<rect x="803" y="258" width="1" height="22" fill="#ef5350"/>
<rect x="800" y="265" width="7" height="15" fill="#ef5350"/>
<rect x="811" y="268" width="1" height="26" fill="#ef5350"/>
<rect x="808" y="279" width="7" height="8" fill="#ef5350"/>
<rect x="820" y="262" width="1" height="26" fill="#26a69a"/>
<rect x="817" y="278" width="7" height="10" fill="#26a69a"/>
<rect x="828" y="258" width="1" height="26" fill="#26a69a"/>
<rect x="825" y="264" width="7" height="15" fill="#26a69a"/>
<rect x="837" y="250" width="1" height="20" fill="#26a69a"/>
<rect x="834" y="260" width="7" height="6" fill="#26a69a"/>
<rect x="845" y="249" width="1" height="18" fill="#26a69a"/>
<rect x="842" y="259" width="7" height="1" fill="#26a69a"/>
<rect x="853" y="257" width="1" height="25" fill="#ef5350"/>
<rect x="850" y="259" width="7" height="21" fill="#ef5350"/>
<rect x="862" y="245" width="1" height="33" fill="#26a69a"/>
<rect x="859" y="246" width="7" height="32" fill="#26a69a"/>
<rect x="870" y="240" width="1" height="25" fill="#26a69a"/>
<rect x="867" y="243" width="7" height="4" fill="#26a69a"/>
<rect x="878" y="235" width="1" height="21" fill="#26a69a"/>
<rect x="875" y="235" width="7" height="9" fill="#26a69a"/>
<rect x="887" y="232" width="1" height="33" fill="#ef5350"/>
<rect x="884" y="235" width="7" height="29" fill="#ef5350"/>
<rect x="895" y="247" width="1" height="19" fill="#26a69a"/>
<rect x="892" y="250" width="7" height="14" fill="#26a69a"/>
<rect x="904" y="249" width="1" height="27" fill="#ef5350"/>
<rect x="901" y="250" width="7" height="25" fill="#ef5350"/>
<rect x="912" y="251" width="1" height="24" fill="#26a69a"/>
<rect x="909" y="262" width="7" height="13" fill="#26a69a"/>
<rect x="920" y="229" width="1" height="34" fill="#26a69a"/>
<rect x="917" y="252" width="7" height="11" fill="#26a69a"/>
<rect x="929" y="187" width="1" height="111" fill="#26a69a"/>
<rect x="926" y="241" width="7" height="12" fill="#26a69a"/>
<rect x="937" y="215" width="1" height="28" fill="#26a69a"/>
<rect x="934" y="240" width="7" height="2" fill="#26a69a"/>
<rect x="946" y="220" width="1" height="34" fill="#ef5350"/>
<rect x="943" y="239" width="7" height="12" fill="#ef5350"/>
<rect x="954" y="250" width="1" height="34" fill="#ef5350"/>
<rect x="951" y="250" width="7" height="13" fill="#ef5350"/>
<rect x="962" y="259" width="1" height="68" fill="#ef5350"/>
<rect x="959" y="262" width="7" height="53" fill="#ef5350"/>
<rect x="971" y="307" width="1" height="27" fill="#ef5350"/>
<rect x="968" y="314" width="7" height="19" fill="#ef5350"/>
<rect x="979" y="297" width="1" height="40" fill="#26a69a"/>
<rect x="976" y="310" width="7" height="22" fill="#26a69a"/>
<rect x="987" y="306" width="1" height="22" fill="#26a69a"/>
<rect x="984" y="307" width="7" height="4" fill="#26a69a"/>
<rect x="996" y="303" width="1" height="37" fill="#ef5350"/>
<rect x="993" y="309" width="7" height="28" fill="#ef5350"/>
<rect x="1004" y="335" width="1" height="32" fill="#ef5350"/>
<rect x="1001" y="335" width="7" height="27" fill="#ef5350"/>
<rect x="1013" y="348" width="1" height="23" fill="#26a69a"/>
<rect x="1010" y="353" width="7" height="9" fill="#26a69a"/>
<rect x="1021" y="339" width="1" height="26" fill="#26a69a"/>
<rect x="1018" y="349" width="7" height="5" fill="#26a69a"/>
<rect x="1029" y="315" width="1" height="37" fill="#26a69a"/>
<rect x="1026" y="317" width="7" height="31" fill="#26a69a"/>
<rect x="1038" y="316" width="1" height="39" fill="#ef5350"/>
<rect x="1035" y="318" width="7" height="26" fill="#ef5350"/>
<rect x="1046" y="341" width="1" height="26" fill="#ef5350"/>
<rect x="1043" y="343" width="7" height="21" fill="#ef5350"/>
<rect x="1055" y="328" width="1" height="37" fill="#26a69a"/>
<rect x="1052" y="329" width="7" height="35" fill="#26a69a"/>
<rect x="1063" y="318" width="1" height="19" fill="#ef5350"/>
<rect x="1060" y="330" width="7" height="4" fill="#ef5350"/>
<rect x="1071" y="311" width="1" height="25" fill="#26a69a"/>
<rect x="1068" y="325" width="7" height="9" fill="#26a69a"/>
<rect x="1080" y="301" width="1" height="34" fill="#26a69a"/>
<rect x="1077" y="304" width="7" height="22" fill="#26a69a"/>
<rect x="1088" y="300" width="1" height="17" fill="#ef5350"/>
<rect x="1085" y="303" width="7" height="3" fill="#ef5350"/>
<rect x="1097" y="268" width="1" height="42" fill="#26a69a"/>
<rect x="1094" y="282" width="7" height="24" fill="#26a69a"/>
<rect x="1105" y="269" width="1" height="17" fill="#ef5350"/>
<rect x="1102" y="281" width="7" height="5" fill="#ef5350"/>
<rect x="1113" y="261" width="1" height="38" fill="#26a69a"/>
<rect x="1110" y="272" width="7" height="14" fill="#26a69a"/>
<rect x="1122" y="257" width="1" height="35" fill="#26a69a"/>
<rect x="1119" y="271" width="7" height="1" fill="#26a69a"/>
<rect x="1130" y="235" width="1" height="37" fill="#26a69a"/>
<rect x="1127" y="249" width="7" height="22" fill="#26a69a"/>
<rect x="1138" y="175" width="1" height="75" fill="#26a69a"/>
<rect x="1135" y="185" width="7" height="65" fill="#26a69a"/>
<rect x="1147" y="161" width="1" height="48" fill="#ef5350"/>
<rect x="1144" y="185" width="7" height="20" fill="#ef5350"/>
<rect x="1155" y="150" width="1" height="55" fill="#26a69a"/>
<rect x="1152" y="164" width="7" height="41" fill="#26a69a"/>
<rect x="1164" y="104" width="1" height="61" fill="#26a69a"/>
<rect x="1161" y="150" width="7" height="15" fill="#26a69a"/>
<rect x="1172" y="135" width="1" height="31" fill="#ef5350"/>
<rect x="1169" y="150" width="7" height="8" fill="#ef5350"/>
<line x1="16" y1="104.5" x2="1278" y2="104.5" stroke="#787b86" stroke-width="1" stroke-dasharray="1 2"/>
<line x1="16" y1="591.5" x2="1278" y2="591.5" stroke="#787b86" stroke-width="1" stroke-dasharray="1 2"/>
<line x1="16" y1="157.5" x2="1278" y2="157.5" stroke="#ef5350" stroke-width="1" stroke-dasharray="1 2"/>
</g>
<text x="27.3" y="69.8" font-size="17.5" fill="#131722" textLength="100.8" lengthAdjust="spacingAndGlyphs" stroke="#131722" stroke-width="0.35">TVC:DXY, 1M</text>
<text x="139.3" y="69.8" font-size="17.5" fill="#131722" stroke="#131722" stroke-width="0.35">O</text>
<text x="151.9" y="69.8" font-size="17.5" fill="#ef5350" textLength="62.0" lengthAdjust="spacingAndGlyphs" stroke="#ef5350" stroke-width="0.35">105.828</text>
<text x="225.5" y="69.8" font-size="17.5" fill="#131722" stroke="#131722" stroke-width="0.35">H</text>
<text x="239.0" y="69.8" font-size="17.5" fill="#ef5350" textLength="62.0" lengthAdjust="spacingAndGlyphs" stroke="#ef5350" stroke-width="0.35">106.930</text>
<text x="311.5" y="69.8" font-size="17.5" fill="#131722" stroke="#131722" stroke-width="0.35">L</text>
<text x="322.0" y="69.8" font-size="17.5" fill="#ef5350" textLength="62.0" lengthAdjust="spacingAndGlyphs" stroke="#ef5350" stroke-width="0.35">104.636</text>
<text x="394.5" y="69.8" font-size="17.5" fill="#131722" stroke="#131722" stroke-width="0.35">C</text>
<text x="407.0" y="69.8" font-size="17.5" fill="#ef5350" textLength="62.0" lengthAdjust="spacingAndGlyphs" stroke="#ef5350" stroke-width="0.35">105.248</text>
<text x="479.0" y="69.8" font-size="17.5" fill="#ef5350" textLength="126.0" lengthAdjust="spacingAndGlyphs" stroke="#ef5350" stroke-width="0.35">−0.580 (−0.55%)</text>
<text x="27.3" y="95.8" font-size="17.5" fill="#131722" textLength="29.3" lengthAdjust="spacingAndGlyphs" stroke="#131722" stroke-width="0.35">SAR</text>
<text x="68.6" y="95.8" font-size="17.5" fill="#2962ff" textLength="61.6" lengthAdjust="spacingAndGlyphs" stroke="#2962ff" stroke-width="0.35">101.259</text>
<text x="27.3" y="121.5" font-size="17.5" fill="#131722" textLength="19.6" lengthAdjust="spacingAndGlyphs" stroke="#131722" stroke-width="0.35">BB</text>
<text x="58.5" y="121.5" font-size="17.5" fill="#ff6d00" textLength="53.4" lengthAdjust="spacingAndGlyphs" stroke="#ff6d00" stroke-width="0.35">96.270</text>
<text x="123.7" y="121.5" font-size="17.5" fill="#2962ff" textLength="61.8" lengthAdjust="spacingAndGlyphs" stroke="#2962ff" stroke-width="0.35">106.457</text>
<text x="197.1" y="121.5" font-size="17.5" fill="#2962ff" textLength="53.4" lengthAdjust="spacingAndGlyphs" stroke="#2962ff" stroke-width="0.35">86.083</text>
<text x="27.3" y="147.8" font-size="17.5" fill="#131722" textLength="29.3" lengthAdjust="spacingAndGlyphs" stroke="#131722" stroke-width="0.35">SAR</text>
<text x="68.6" y="147.8" font-size="17.5" fill="#26c6da" textLength="61.6" lengthAdjust="spacingAndGlyphs" stroke="#26c6da" stroke-width="0.35">101.259</text>
<rect x="1278" y="42" width="1" height="666" fill="#e1e2e4"/>
<rect x="16" y="667" width="1357" height="1" fill="#e1e2e4"/>
<text x="1294.8" y="66.7" font-size="17.5" fill="#131722" textLength="30.2" lengthAdjust="spacingAndGlyphs" stroke="#131722" stroke-width="0.35">USD</text>
<text x="1293.7" y="660.4" font-size="17.5" fill="#131722" textLength="52.6" lengthAdjust="spacingAndGlyphs" stroke="#131722" stroke-width="0.35">68.000</text>
<text x="1293.7" y="607.1" font-size="17.5" fill="#131722" textLength="52.6" lengthAdjust="spacingAndGlyphs" stroke="#131722" stroke-width="0.35">72.000</text>
<text x="1293.7" y="553.9" font-size="17.5" fill="#131722" textLength="52.6" lengthAdjust="spacingAndGlyphs" stroke="#131722" stroke-width="0.35">76.000</text>
<text x="1293.7" y="500.6" font-size="17.5" fill="#131722" textLength="52.6" lengthAdjust="spacingAndGlyphs" stroke="#131722" stroke-width="0.35">80.000</text>
<text x="1293.7" y="447.4" font-size="17.5" fill="#131722" textLength="52.6" lengthAdjust="spacingAndGlyphs" stroke="#131722" stroke-width="0.35">84.000</text>
<text x="1293.7" y="394.1" font-size="17.5" fill="#131722" textLength="52.6" lengthAdjust="spacingAndGlyphs" stroke="#131722" stroke-width="0.35">88.000</text>
<text x="1293.7" y="340.9" font-size="17.5" fill="#131722" textLength="52.6" lengthAdjust="spacingAndGlyphs" stroke="#131722" stroke-width="0.35">92.000</text>
<text x="1293.7" y="287.6" font-size="17.5" fill="#131722" textLength="52.6" lengthAdjust="spacingAndGlyphs" stroke="#131722" stroke-width="0.35">96.000</text>
<text x="1293.7" y="234.4" font-size="17.5" fill="#131722" textLength="61.8" lengthAdjust="spacingAndGlyphs" stroke="#131722" stroke-width="0.35">100.000</text>
<text x="1293.7" y="181.1" font-size="17.5" fill="#131722" textLength="61.8" lengthAdjust="spacingAndGlyphs" stroke="#131722" stroke-width="0.35">104.000</text>
<text x="1293.7" y="127.9" font-size="17.5" fill="#131722" textLength="61.8" lengthAdjust="spacingAndGlyphs" stroke="#131722" stroke-width="0.35">108.000</text>
<path d="M1278 119.1 H1363.5 Q1366.5 119.1 1366.5 122.1 V143.9 H1278 Z" fill="#2962ff"/>
<text x="1294.8" y="138.6" font-size="17.5" fill="#fff" textLength="61.2" lengthAdjust="spacingAndGlyphs" font-weight="bold">106.457</text>
<path d="M1278 143.9 H1366.5 V188.5 Q1366.5 191.5 1363.5 191.5 H1278 Z" fill="#ef5350"/>
<text x="1294.8" y="163.8" font-size="17.5" fill="#fff" textLength="61.2" lengthAdjust="spacingAndGlyphs" font-weight="bold">105.248</text>
<text x="1294.8" y="184.8" font-size="17.5" fill="rgba(255,255,255,0.8)" textLength="61.2" lengthAdjust="spacingAndGlyphs" font-weight="bold">20d 17h</text>
<path d="M1278 198.3 H1363.5 Q1366.5 198.3 1366.5 201.3 V223.0 H1278 Z" fill="#26c6da"/>
<text x="1294.9" y="217.4" font-size="17.5" fill="#131722" textLength="62.3" lengthAdjust="spacingAndGlyphs" stroke="#131722" stroke-width="0.35">101.259</text>
<path d="M1278 223.0 H1366.5 V246.6 Q1366.5 249.6 1363.5 249.6 H1278 Z" fill="#2962ff"/>
<text x="1294.9" y="242.8" font-size="17.5" fill="#fff" textLength="62.3" lengthAdjust="spacingAndGlyphs" font-weight="bold">101.259</text>
<path d="M1278 263.7 H1353.0 Q1356.0 263.7 1356.0 266.7 V287.6 Q1356.0 290.6 1353.0 290.6 H1278 Z" fill="#ff6d00"/>
<text x="1294.1" y="283.8" font-size="17.5" fill="#fff" textLength="53.6" lengthAdjust="spacingAndGlyphs" font-weight="bold">96.270</text>
<path d="M1278 400.0 H1352.9 Q1355.9 400.0 1355.9 403.0 V423.8 Q1355.9 426.8 1352.9 426.8 H1278 Z" fill="#2962ff"/>
<text x="1294.1" y="420.0" font-size="17.5" fill="#fff" textLength="53.6" lengthAdjust="spacingAndGlyphs" font-weight="bold">86.083</text>
<text x="87.3" y="694.8" font-size="17.5" fill="#131722" textLength="40.5" lengthAdjust="spacingAndGlyphs" stroke="#131722" stroke-width="0.35">2012</text>
<text x="288.3" y="694.8" font-size="17.5" fill="#131722" textLength="40.5" lengthAdjust="spacingAndGlyphs" stroke="#131722" stroke-width="0.35">2014</text>
<text x="489.3" y="694.8" font-size="17.5" fill="#131722" textLength="40.5" lengthAdjust="spacingAndGlyphs" stroke="#131722" stroke-width="0.35">2016</text>
<text x="691.3" y="694.8" font-size="17.5" fill="#131722" textLength="40.5" lengthAdjust="spacingAndGlyphs" stroke="#131722" stroke-width="0.35">2018</text>
<text x="892.3" y="694.8" font-size="17.5" fill="#131722" textLength="40.5" lengthAdjust="spacingAndGlyphs" stroke="#131722" stroke-width="0.35">2020</text>
<text x="1093.3" y="694.8" font-size="17.5" fill="#131722" textLength="40.5" lengthAdjust="spacingAndGlyphs" stroke="#131722" stroke-width="0.35">2022</text>
<rect x="15" y="41" width="1359" height="668" fill="none" stroke="#e9ebf0" stroke-width="2"/>
<g fill="#131722">
<path d="M15.1 727.1h11.6v14.6h-5.9v-8.9h-5.7z"/>
<circle cx="31.6" cy="730.6" r="3.15"/>
<path d="M38.3 727.1H44.3L38.5 741.7H31.9z"/>
</g>
<text x="50.0" y="743.0" font-size="19.0" fill="#131722" textLength="105.0" lengthAdjust="spacingAndGlyphs" stroke="#131722" stroke-width="0.35">TradingView</text>
</svg></body></html>
